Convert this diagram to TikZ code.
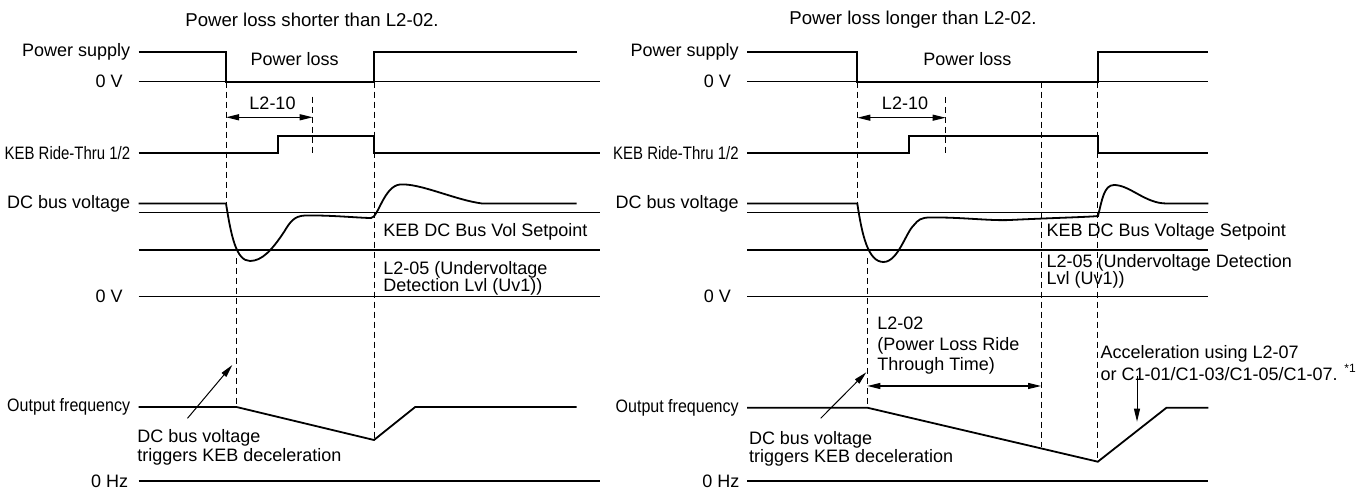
\documentclass[tikz,border=0pt]{standalone}
\usepackage{fontspec}
\setmainfont{Liberation Sans}
\usepackage{tikz}
\usetikzlibrary{arrows.meta, positioning, calc}

\begin{document}
\begin{tikzpicture}[x=0.5pt, y=-0.5pt,
  lbl/.style={anchor=east, inner sep=0pt, font=\fontsize{9}{10}\selectfont},
  txt/.style={inner sep=0pt, align=left, font=\fontsize{9}{10}\selectfont},
  ttl/.style={inner sep=0pt, font=\fontsize{9.3}{11}\selectfont},
  sig/.style={line width=0.9pt, line join=miter},
  ref/.style={line width=0.55pt},
  guide/.style={line width=0.5pt, dash pattern=on 3pt off 2pt},
  dim/.style={{Triangle[length=6.5pt,width=3pt]}-{Triangle[length=6.5pt,width=3pt]}, line width=0.6pt},
  arrow/.style={-{Triangle[length=6.5pt,width=3pt]}, line width=0.5pt}]
  \useasboundingbox (0,0) rectangle (1369,490);

  % left: power loss shorter than L2-02
  \node[ttl] (titleA) at (312,20) {Power loss shorter than L2-02.};
  \node[lbl] (supplyA) at (130.5,52) {Power supply};
  \node[lbl] (zeroA) at (123,81.7) {0 V};
  \node[lbl] (kebA) at (130.5,153.3) {\scalebox{0.83}[1]{KEB Ride-Thru 1/2}};
  \node[lbl] (dcA) at (130.5,203.5) {DC bus voltage};
  \node[lbl] (dczeroA) at (123,296.7) {0 V};
  \node[lbl] (outA) at (130.5,407) {\scalebox{0.89}[1]{Output frequency}};
  \node[lbl] (hzA) at (128.6,481) {0 Hz};

  \draw[ref] (138.5,81.7) -- (600,81.7);
  \draw[ref] (138.5,212.7) -- (600,212.7);
  \draw[ref] (138.5,250) -- (600,250);
  \draw[ref] (138.5,296.7) -- (600,296.7);
  \draw[ref] (138.5,481) -- (600,481);

  \draw[sig] (138.5,52) -- (226,52) -- (226,81.7) -- (374,81.7) -- (374,52) -- (576.7,52);
  \draw[sig] (138.5,153.3) -- (277.7,153.3) -- (277.7,135.7) -- (374,135.7) -- (374,153.3) -- (600,153.3);
  \draw[sig] (138.5,203.5) -- (226,203.5)
    .. controls (231,235) and (236,261) .. (250,261)
    .. controls (262,261) and (272,250) .. (284,232)
    .. controls (290,222) and (294,216) .. (305,215.5)
    .. controls (330,215) and (360,218) .. (371,218)
    .. controls (378,218) and (384,186) .. (400,184.5)
    .. controls (420,183) and (455,200) .. (482,203.5) -- (576.7,203.5);
  \draw[sig] (138.5,407) -- (236.5,407) -- (374,440) -- (415.2,407) -- (576.7,407);

  \draw[guide] (226,81.7) -- (226,203.5);
  \draw[guide] (236.5,258) -- (236.5,407);
  \draw[guide] (374,81.7) -- (374,440);
  \draw[guide] (312.7,96.7) -- (312.7,153.3);

  \node[txt] (lossA) at (294.7,59.3) {Power loss};
  \node[txt] (tenA) at (272.5,103.3) {L2-10};
  \coordinate (tenAl) at (226,117.3);
  \coordinate (tenAr) at (312.7,117.3);
  \draw[dim] (tenAl) -- (tenAr);

  \node[txt, anchor=west] (setA) at (383,231.7) {KEB DC Bus Vol Setpoint};
  \node[txt, anchor=west, font=\fontsize{9}{8.4}\selectfont] (uvA) at (383,278.3) {L2-05 (Undervoltage\\Detection Lvl (Uv1))};

  \node[txt, anchor=west, font=\fontsize{9}{9.3}\selectfont] (trigA) at (137,447.3) {DC bus voltage\\triggers KEB deceleration};
  \coordinate (trigAtail) at (187.5,418.3);
  \coordinate (trigAtip) at (232.3,365);
  \draw[arrow] (trigAtail) -- (trigAtip);

  % right: power loss longer than L2-02
  \node[ttl] (titleB) at (913,20) {Power loss longer than L2-02.};
  \node[lbl] (supplyB) at (739,52) {Power supply};
  \node[lbl] (zeroB) at (731.4,81.7) {0 V};
  \node[lbl] (kebB) at (739,153.3) {\scalebox{0.83}[1]{KEB Ride-Thru 1/2}};
  \node[lbl] (dcB) at (739,203.5) {DC bus voltage};
  \node[lbl] (dczeroB) at (731.4,296.7) {0 V};
  \node[lbl] (outB) at (739,407.7) {\scalebox{0.89}[1]{Output frequency}};
  \node[lbl] (hzB) at (739.8,481) {0 Hz};

  \draw[ref] (747,81.7) -- (1208.3,81.7);
  \draw[ref] (747,212.7) -- (1208.3,212.7);
  \draw[ref] (747,250) -- (1208.3,250);
  \draw[ref] (747,296.7) -- (1208.3,296.7);
  \draw[ref] (747,481) -- (1208.3,481);

  \draw[sig] (747,52) -- (857.3,52) -- (857.3,81.7) -- (1097.8,81.7) -- (1097.8,52) -- (1208.3,52);
  \draw[sig] (747,153.3) -- (909.3,153.3) -- (909.3,135.7) -- (1097.8,135.7) -- (1097.8,153.3) -- (1208.3,153.3);
  \draw[sig] (747,203.5) -- (857.3,203.5)
    .. controls (862,235) and (868,262) .. (883.5,262)
    .. controls (898,262) and (906,232) .. (914,225)
    .. controls (918,220) and (921,217.5) .. (930,217.5)
    .. controls (960,217) and (990,221) .. (1010,220)
    .. controls (1050,218) and (1090,217) .. (1098,216)
    .. controls (1102,200) and (1104,185) .. (1114,185)
    .. controls (1130,185) and (1145,203.5) .. (1166.5,203.5) -- (1208.3,203.5);
  \draw[sig] (747,407.7) -- (867.3,407.7) -- (1097.8,461.7) -- (1166.5,407.7) -- (1208.3,407.7);

  \draw[guide] (857.3,81.7) -- (857.3,203.5);
  \draw[guide] (867.3,258) -- (867.3,407.7);
  \draw[guide] (1041,81.7) -- (1041,446.7);
  \draw[guide] (1097.8,81.7) -- (1097.8,461.7);
  \draw[guide] (945.7,97) -- (945.7,153.3);

  \node[txt] (lossB) at (967.4,59.3) {Power loss};
  \node[txt] (tenB) at (905,103.3) {L2-10};
  \coordinate (tenBl) at (857.3,117.7);
  \coordinate (tenBr) at (945.7,117.7);
  \draw[dim] (tenBl) -- (tenBr);

  \node[txt, anchor=west] (setB) at (1046.3,232.3) {KEB DC Bus Voltage Setpoint};
  \node[txt, anchor=west, font=\fontsize{9}{8.5}\selectfont] (uvB) at (1046.3,271.5) {L2-05 (Undervoltage Detection\\Lvl (Uv1))};

  \node[txt, anchor=west, font=\fontsize{9}{10.2}\selectfont] (rideB) at (877,345.7) {L2-02\\(Power Loss Ride\\Through Time)};
  \coordinate (rideBl) at (867.3,386);
  \coordinate (rideBr) at (1041,386);
  \draw[dim] (rideBl) -- (rideBr);

  \node[txt, anchor=west, font=\fontsize{9}{9.5}\selectfont] (accB) at (1100.2,363.2) {Acceleration using L2-07\\or C1-01/C1-03/C1-05/C1-07. \textsuperscript{*1}};
  \coordinate (accBtail) at (1137,376);
  \coordinate (accBtip) at (1137,421.7);
  \draw[arrow] (accBtail) -- (accBtip);

  \node[txt, anchor=west, font=\fontsize{9}{9.3}\selectfont] (trigB) at (748.6,449) {DC bus voltage\\triggers KEB deceleration};
  \coordinate (trigBtail) at (820.7,418.3);
  \coordinate (trigBtip) at (866.3,372.3);
  \draw[arrow] (trigBtail) -- (trigBtip);
\end{tikzpicture}
\end{document}
